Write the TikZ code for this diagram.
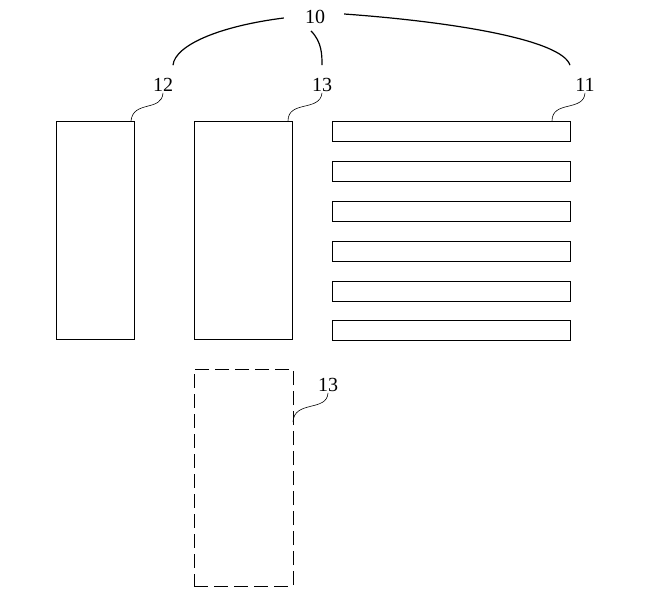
\documentclass[tikz,border=0pt]{standalone}
\usepackage{fontspec}
\setmainfont{Liberation Serif}
\usetikzlibrary{positioning}

\begin{document}
\begin{tikzpicture}[x=1pt,y=-1pt]
  \useasboundingbox (0,0) rectangle (646,602);
  \tikzstyle{part}=[draw, line width=0.8pt, inner sep=0pt, outer sep=0pt, anchor=north west]
  \tikzstyle{num}=[font=\fontsize{20}{22}\selectfont, inner sep=1pt]
  \tikzstyle{leader}=[line width=0.6pt]
  \tikzstyle{brace}=[line width=1.2pt]
  % parts
  \node[part, minimum width=78pt, minimum height=218pt] (b12) at (56,121) {};
  \node[part, minimum width=98pt, minimum height=218pt] (b13) at (194,121) {};
  \node[part, dash pattern=on 14pt off 6pt, minimum width=99pt, minimum height=217pt] (b13d) at (194,369) {};
  \foreach \i/\y in {1/121,2/161,3/201,4/241,5/281,6/320}{
    \node[part, minimum width=238pt, minimum height=20pt] (bar\i) at (332,\y) {};
  }
  % labels
  \node[num] (l10) at (315,17) {10};
  \node[num] (l12) at (163,85) {12};
  \node[num] (l13) at (322,85) {13};
  \node[num] (l11) at (585,85) {11};
  \node[num] (l13d) at (328,385) {13};
  % leaders
  \draw[leader] (l12.south) .. controls (162,112) and (133,100) .. ([xshift=-3pt]b12.north east);
  \draw[leader] (l13.south) .. controls (320,112) and (288,100) .. ([xshift=-4pt]b13.north east);
  \draw[leader] (l11.south) .. controls (584,112) and (552,100) .. ([xshift=-18pt]bar1.north east);
  \draw[leader] (l13d.south) .. controls (327,412) and (294,400) .. ([yshift=-53pt]b13d.north east);
  % braces
  \draw[brace] ([xshift=-20pt,yshift=-1pt]l10.west) .. controls (220,26) and (175,45) .. ([xshift=10pt,yshift=12pt]l12.north);
  \draw[brace] ([xshift=-4pt,yshift=-6pt]l10.south) .. controls (322,42) and (322,55) .. ([yshift=12pt]l13.north);
  \draw[brace] ([xshift=18pt,yshift=3pt]l10.east) .. controls (455,22) and (562,40) .. ([xshift=-15pt,yshift=12pt]l11.north);
\end{tikzpicture}
\end{document}
